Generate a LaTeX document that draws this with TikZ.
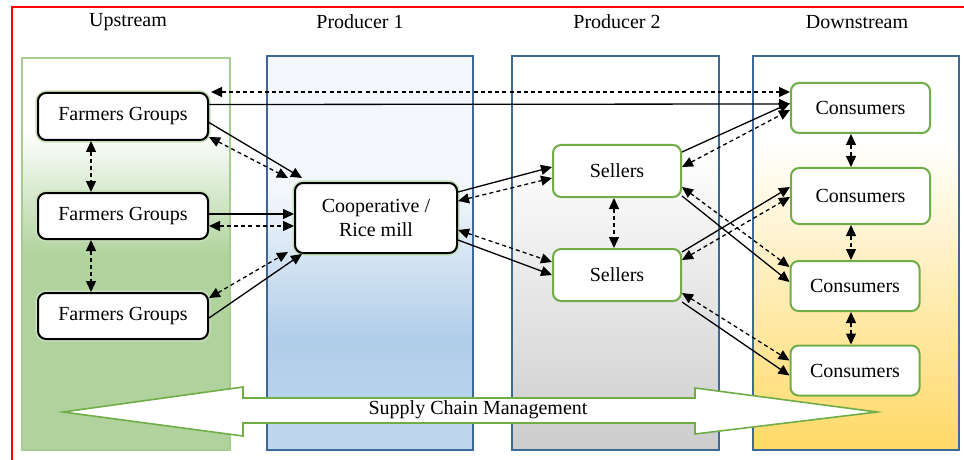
\documentclass[tikz,border=0pt]{standalone}
\usepackage{fontspec}
\setmainfont{Liberation Serif}
\usetikzlibrary{arrows.meta}

\definecolor{upgreen}{HTML}{B0D39D}
\definecolor{upline}{HTML}{A6CD90}
\definecolor{prodblue}{HTML}{B0CDE9}
\definecolor{paleblue}{HTML}{F3F7FC}
\definecolor{colline}{HTML}{3E6898}
\definecolor{prodgray}{HTML}{CCCCCC}
\definecolor{downyellow}{HTML}{FFD966}
\definecolor{boxgreen}{HTML}{70AD47}

\tikzset{
  blackbox/.style={draw=black, line width=1pt, rounded corners=4pt, fill=white,
    align=center, preaction={draw=upgreen!70, line width=2.6pt}},
  greenbox/.style={draw=boxgreen, line width=1pt, rounded corners=4pt, fill=white, align=center},
  flow/.style={-{Triangle[length=5.5pt,width=5pt]}, line width=0.65pt},
  info/.style={{Triangle[length=5.5pt,width=5pt]}-{Triangle[length=5.5pt,width=5pt]},
    line width=0.65pt, dash pattern=on 2pt off 1.6pt}
}

\begin{document}
\begin{tikzpicture}[x=0.5pt, y=-0.5pt]
  \useasboundingbox (0,0) rectangle (964,460);

  % red frame
  \draw[red, line width=1.1pt] (12,460) -- (12,7) -- (964,7);

  % upstream column
  \fill[white] (22,58) rectangle (230,130);
  \shade[top color=white, bottom color=upgreen] (22,130) rectangle (230,255);
  \fill[upgreen] (22,255) rectangle (230,450);
  \draw[upline, line width=0.7pt] (22,58) rectangle (230,450);

  % producer 1 column
  \fill[paleblue] (267,56) rectangle (473,190);
  \shade[top color=paleblue, bottom color=prodblue] (267,190) rectangle (473,340);
  \shade[top color=prodblue, bottom color=prodblue!80!white] (267,340) rectangle (473,450);
  \draw[colline, line width=0.8pt] (267,56) rectangle (473,450);

  % producer 2 column
  \fill[white] (512,56) rectangle (719,150);
  \shade[top color=white, bottom color=prodgray] (512,150) rectangle (719,450);
  \draw[colline, line width=0.8pt] (512,56) rectangle (719,450);

  % downstream column
  \fill[white] (753,56) rectangle (959,140);
  \shade[top color=white, bottom color=downyellow] (753,140) rectangle (959,450);
  \draw[colline, line width=0.8pt] (753,56) rectangle (959,450);

  % headings
  \node (up) at (128,22) {Upstream};
  \node (pone) at (360,22) {Producer 1};
  \node (ptwo) at (617,22) {Producer 2};
  \node (down) at (857,22) {Downstream};

  % supply chain management arrow
  \draw[boxgreen, fill=white, line width=0.8pt]
    (63,412) -- (243,387) -- (243,398) -- (695,398) -- (695,388) -- (877,412)
    -- (695,434) -- (695,423) -- (243,423) -- (243,436) -- cycle;
  \node (scm) at (478,410) {Supply Chain Management};

  % farmers groups
  \node[blackbox, minimum width=85pt, minimum height=23.5pt] (fg1) at (123,116.5) {Farmers Groups};
  \node[blackbox, minimum width=85pt, minimum height=23pt] (fg2) at (123,216) {Farmers Groups};
  \node[blackbox, minimum width=85pt, minimum height=23pt] (fg3) at (123,316) {Farmers Groups};

  % cooperative
  \node[blackbox, minimum width=81pt, minimum height=35pt] (coop) at (376,218) {Cooperative /\\Rice mill};

  % sellers
  \node[greenbox, minimum width=64pt, minimum height=26pt] (sel1) at (617,171) {Sellers};
  \node[greenbox, minimum width=64pt, minimum height=26pt] (sel2) at (617,275) {Sellers};

  % consumers
  \node[greenbox, minimum width=69.5pt, minimum height=25pt] (cons1) at (860.5,108) {Consumers};
  \node[greenbox, minimum width=69.5pt, minimum height=28pt] (cons2) at (860.5,196) {Consumers};
  \node[greenbox, minimum width=64.5pt, minimum height=25pt] (cons3) at (855,286) {Consumers};
  \node[greenbox, minimum width=64.5pt, minimum height=25pt] (cons4) at (855,370.5) {Consumers};

  % farmers to consumers
  \draw[info] ([xshift=1pt]fg1.north east) -- ([yshift=-5pt]cons1.north west);
  \draw[flow] ([yshift=6pt]fg1.east) -- ([yshift=2pt]cons1.west);

  % farmers to cooperative
  \draw[flow] ([yshift=-3pt]fg1.east) -- ([xshift=4pt,yshift=2pt]coop.north west);
  \draw[info] ([yshift=2pt]fg1.south east) -- ([xshift=-3pt,yshift=2pt]coop.north west);
  \draw[flow] ([yshift=1pt]fg2.east) -- ([yshift=2pt]coop.west);
  \draw[info] ([yshift=-5pt]fg2.east) -- ([yshift=-4pt]coop.west);
  \draw[flow] ([yshift=-1pt]fg3.east) -- ([xshift=4pt]coop.south west);
  \draw[info] ([yshift=-3pt]fg3.north east) -- ([xshift=-3pt,yshift=1pt]coop.south west);

  % between farmers groups
  \draw[info] ([xshift=-16pt]fg1.south) -- ([xshift=-16pt]fg2.north);
  \draw[info] ([xshift=-16pt]fg2.south) -- ([xshift=-16pt]fg3.north);

  % cooperative to sellers
  \draw[flow] ([yshift=-5pt]coop.north east) -- ([yshift=2pt]sel1.west);
  \draw[info] ([yshift=-9.5pt]coop.north east) -- ([yshift=-3.5pt]sel1.west);
  \draw[info] ([yshift=-6pt]coop.east) -- ([yshift=6.5pt]sel2.west);
  \draw[flow] ([yshift=-11pt]coop.east) -- (sel2.west);

  % between sellers
  \draw[info] ([xshift=-1.5pt]sel1.south) -- ([xshift=-1.5pt]sel2.north);

  % sellers to consumers
  \draw[flow] ([yshift=-4pt]sel1.north east) -- ([yshift=2.5pt]cons1.west);
  \draw[info] ([yshift=2pt]sel1.east) -- ([yshift=-1pt]cons1.west);
  \draw[flow] ([yshift=1pt]sel1.south east) -- ([yshift=2pt]cons3.west);
  \draw[info] ([yshift=-8pt]sel1.east) -- ([yshift=9.5pt]cons3.west);
  \draw[flow] ([yshift=-2pt]sel2.north east) -- ([yshift=4.5pt]cons2.west);
  \draw[info] ([yshift=7.5pt]sel2.east) -- ([yshift=-0.5pt]cons2.west);
  \draw[info] ([yshift=-9pt]sel2.east) -- ([yshift=5pt]cons4.west);
  \draw[flow] (sel2.south east) -- ([yshift=-2.5pt]cons4.west);

  % between consumers
  \draw[info] ([xshift=-4.75pt]cons1.south) -- ([xshift=-4.75pt]cons2.north);
  \draw[info] ([xshift=-4.75pt]cons2.south) -- ([xshift=-2pt]cons3.north);
  \draw[info] ([xshift=-2pt]cons3.south) -- ([xshift=-2pt]cons4.north);

\end{tikzpicture}
\end{document}
